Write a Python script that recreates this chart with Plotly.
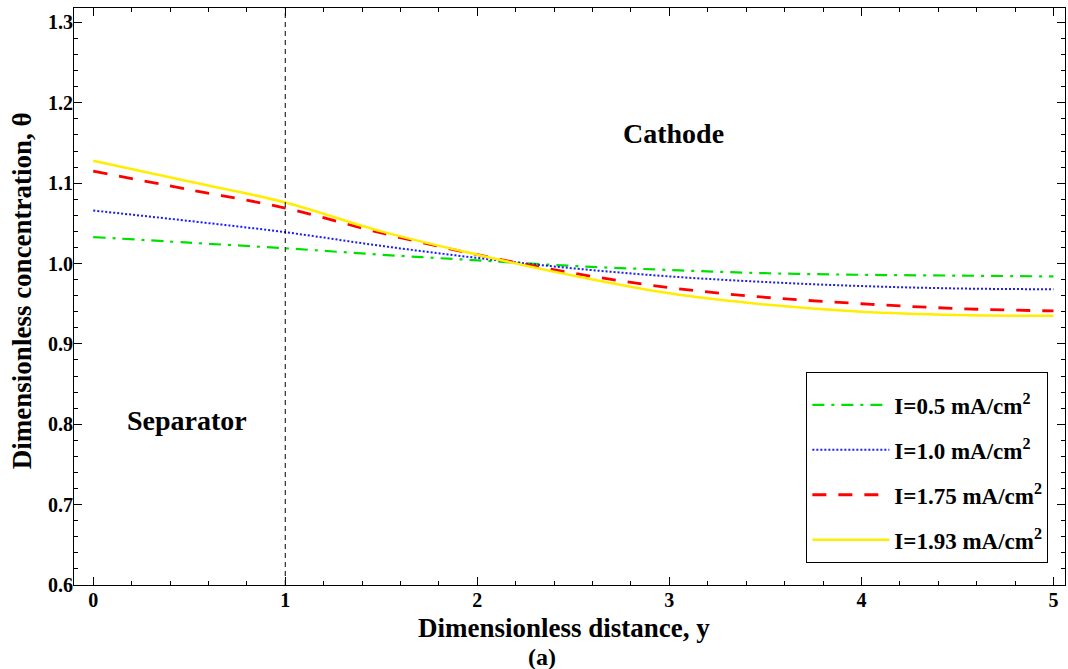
import plotly.graph_objects as go

y_dist = [0, 0.5, 1.0, 1.5, 2.0, 2.5, 3.0, 3.5, 4.0, 4.5, 5.0]
theta_05 = [1.033, 1.026, 1.019, 1.011, 1.004, 0.997, 0.992, 0.988, 0.986, 0.985, 0.984]
theta_10 = [1.066, 1.053, 1.039, 1.022, 1.007, 0.994, 0.984, 0.977, 0.972, 0.969, 0.968]
theta_175 = [1.115, 1.092, 1.069, 1.038, 1.011, 0.988, 0.970, 0.958, 0.950, 0.944, 0.941]
theta_193 = [1.128, 1.102, 1.076, 1.040, 1.011, 0.985, 0.963, 0.949, 0.940, 0.936, 0.935]

names = ["I=0.5 mA/cm<sup>2</sup>", "I=1.0 mA/cm<sup>2</sup>",
         "I=1.75 mA/cm<sup>2</sup>", "I=1.93 mA/cm<sup>2</sup>"]
series = [theta_05, theta_10, theta_175, theta_193]
colors = ["#00e000", "#1a1aff", "#ff0000", "#ffee00"]
dashes = ["12px,7px,3px,7px", "2px,2px", "14px,12px", "solid"]
widths = [2.2, 2, 2.8, 2.5]

FONT = "Liberation Serif"

fig = go.Figure()
for i, (nm, s) in enumerate(zip(names, series)):
    fig.add_trace(go.Scatter(
        x=y_dist, y=s, mode="lines", name=nm, legendgroup=str(i),
        line=dict(color=colors[i], dash=dashes[i], width=widths[i], shape="spline"),
    ))

fig.add_shape(type="line", xref="x", yref="paper", x0=1, x1=1, y0=0, y1=1,
              line=dict(color="black", width=1, dash="5px,4px"))

fig.add_annotation(x=3.02, y=1.162, xref="x", yref="y", text="Cathode", showarrow=False,
                   font=dict(family=FONT, size=28, color="black", weight="bold"))
fig.add_annotation(x=0.49, y=0.805, xref="x", yref="y", text="Separator", showarrow=False,
                   font=dict(family=FONT, size=28, color="black", weight="bold"))
fig.add_annotation(x=0.472, y=-0.1248, xref="paper", yref="paper", text="(a)", showarrow=False,
                   yanchor="middle",
                   font=dict(family=FONT, size=24, color="black", weight="bold"))
fig.add_annotation(x=0.4945, y=-0.0745, xref="paper", yref="paper",
                   text="Dimensionless distance, y", showarrow=False, yanchor="middle",
                   font=dict(family=FONT, size=27, color="black", weight="bold"))
fig.add_annotation(x=-0.0525, y=0.511, xref="paper", yref="paper", textangle=-90,
                   text="Dimensionless concentration, θ", showarrow=False,
                   xanchor="center", yanchor="middle",
                   font=dict(family=FONT, size=27, color="black", weight="bold"))

axis_common = dict(
    showline=True, linecolor="black", linewidth=1, mirror="ticks",
    ticks="inside", ticklen=8, tickcolor="black", showgrid=False, zeroline=False,
    tickfont=dict(family=FONT, size=20, color="black", weight="bold"),
)

fig.update_layout(
    width=1068, height=669,
    margin=dict(l=74, r=3, t=8, b=84),
    paper_bgcolor="white", plot_bgcolor="white",
    xaxis=dict(range=[-0.1, 5.06], dtick=1, tick0=0,
               minor=dict(dtick=0.2, ticks="inside", ticklen=4, tickcolor="black"),
               ticklabelstandoff=-3,
               **axis_common),
    yaxis=dict(range=[0.6, 1.318], dtick=0.1, tick0=0.6, tickformat=".1f",
               minor=dict(dtick=0.02, ticks="inside", ticklen=4, tickcolor="black"),
               ticklabelstandoff=-4,
               **axis_common),
    legend=dict(x=0.739, y=0.369, xanchor="left", yanchor="top",
                bordercolor="black", borderwidth=1, bgcolor="white",
                tracegroupgap=12, itemwidth=77,
                title=dict(text=" ", font=dict(size=8)),
                font=dict(family=FONT, size=23, color="black", weight="bold")),
    showlegend=True,
)

fig.write_html("out.html")
